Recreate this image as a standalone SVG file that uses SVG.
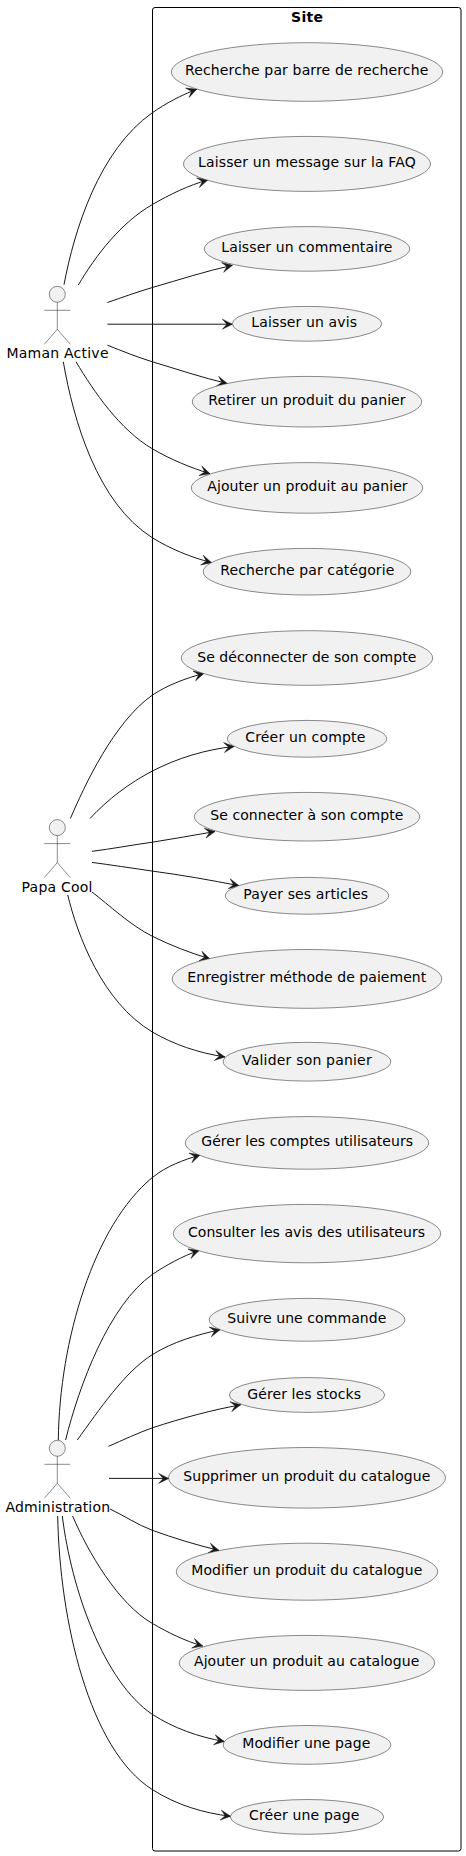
<svg xmlns="http://www.w3.org/2000/svg" width="466" height="1856" viewBox="0 0 466 1856">
<style>
text{font-family:"DejaVu Sans",sans-serif;font-size:14px;fill:#000}
.u{fill:#F1F1F1;stroke:#181818;stroke-width:.5}
.a{fill:none;stroke:#181818;stroke-width:.5}
.h{fill:#F1F1F1;stroke:#181818;stroke-width:.5}
.c path{fill:none;stroke:#181818;stroke-width:1;marker-end:url(#arr)}
</style>
<defs>
<marker id="arr" markerUnits="userSpaceOnUse" markerWidth="12" markerHeight="12" refX="10.5" refY="6" orient="auto" overflow="visible"><path d="M10.5,6 L0.5,1 L5,6 L0.5,11 Z" fill="#181818" stroke="#181818" stroke-width=".5"/></marker>
</defs>
<rect width="466" height="1856" fill="#fff"/>
<g id="Site"><rect x="152.5" y="7.5" width="308.5" height="1843.5" rx="2.5" fill="none" stroke="#000" stroke-width="1"/>
<text x="291" y="22" textLength="32" style="font-weight:700">Site</text></g>
<g id="actor-maman"><circle class="h" cx="57.3" cy="294.3" r="8"/><path class="a" d="M57.3,302.3V329.3M44.3,310.3H70.3M57.3,329.3L44.3,344.3M57.3,329.3L70.3,344.3"/><text x="6.5" y="358.3" textLength="102">Maman Active</text></g>
<g id="actor-papa"><circle class="h" cx="57.3" cy="827.6" r="8"/><path class="a" d="M57.3,835.6V862.6M44.3,843.6H70.3M57.3,862.6L44.3,877.6M57.3,862.6L70.3,877.6"/><text x="21.5" y="891.6" textLength="71">Papa Cool</text></g>
<g id="actor-admin"><circle class="h" cx="57.3" cy="1448.3" r="8"/><path class="a" d="M57.3,1456.3V1483.3M44.3,1464.3H70.3M57.3,1483.3L44.3,1498.3M57.3,1483.3L70.3,1498.3"/><text x="5.5" y="1512.3" textLength="104.5">Administration</text></g>
<g id="connectors" class="c">
<path d="M64,284.7C74.3,230 99.1,150 152.4,112.7C165.5,103.5 181.4,95 196.7,89.3"/>
<path d="M78.3,285C96,255 121.2,222.5 152.4,204.5C169.7,194.5 188.4,185.4 207.7,180"/>
<path d="M107.4,302.5C122,297.5 137,292 152.4,287.5C178.4,280 206.2,271 232.4,265.3"/>
<path d="M107.4,324.2H232.4"/>
<path d="M107.4,345.2C122,351 137,357 152.4,361.8C176.5,369 203.2,378 227.3,383.5"/>
<path d="M76,361.8C94.2,392 119.6,429.5 152.4,448.8C169.6,459 191.3,468 210,473.7"/>
<path d="M63.3,361.8C73.4,420 97.1,503 152.4,537.8C170.5,549 190.3,557 211.6,562.7"/>
<path d="M70.4,818.5C84.3,786 114,722 152.4,695.1C167.5,685 186.4,678 204,673.4"/>
<path d="M90,818.5C107.7,799.4 129.3,783 152.4,771C177.3,758.1 206.1,749.4 234,746.5"/>
<path d="M92,851.3C111,849 131.8,845 152.4,842.2C173.5,839 194.3,835 215,831.5"/>
<path d="M92,862.4C111,865 131.8,868 152.4,871.1C181.4,875 210.2,880 239,885.7"/>
<path d="M92,892C109,905 130,925.1 152.4,936.3C170.3,945.2 190.3,953 210,958.9"/>
<path d="M67.7,894.8C77.3,935 102.4,1002.5 152.4,1032C173.1,1044.2 198.3,1053 225,1056.9"/>
<path d="M58.3,1440C59.5,1340 94.2,1225 152.4,1177.5C166.5,1166 183.4,1160 200,1155"/>
<path d="M65.6,1440C79.3,1385 109,1305 152.4,1274.4C166.5,1265 182.4,1256 199,1250.6"/>
<path d="M77.3,1440C99.1,1410 124.4,1372.1 152.4,1354.6C172.8,1341.9 196.3,1335 220,1329.7"/>
<path d="M108.4,1446.4C123,1440 137.8,1433 152.4,1427.8C182.4,1418 212.1,1410 240.7,1404.8"/>
<path d="M109,1478.4H168.7"/>
<path d="M110,1509C123,1515 137.8,1525 152.4,1530.3C173.5,1538 196.3,1545 219,1550.4"/>
<path d="M72.6,1516C88,1552 117.8,1603.5 152.4,1623.5C168,1632.5 185,1641 202.7,1646"/>
<path d="M62.3,1516C71.4,1590 104.1,1682 152.4,1714.4C173.5,1728 198.3,1737 224.3,1741.5"/>
<path d="M57.7,1516C59.5,1620 89.2,1750 152.4,1789.6C176.5,1805 203.2,1813 230.7,1816.3"/>
</g>
<g id="uc1"><ellipse class="u" cx="307" cy="72" rx="135.7" ry="29.3"/><text x="185" y="75.4" textLength="243.3">Recherche par barre de recherche</text></g>
<g id="uc2"><ellipse class="u" cx="307" cy="163.9" rx="123.5" ry="27.5"/><text x="198" y="167.4" textLength="217.7">Laisser un message sur la FAQ</text></g>
<g id="uc3"><ellipse class="u" cx="307" cy="248.9" rx="102.7" ry="22.3"/><text x="221.3" y="252.4" textLength="171">Laisser un commentaire</text></g>
<g id="uc4"><ellipse class="u" cx="307" cy="323.8" rx="74.7" ry="17.4"/><text x="251.3" y="327.3" textLength="105.7">Laisser un avis</text></g>
<g id="uc5"><ellipse class="u" cx="307" cy="401.7" rx="114.7" ry="25.3"/><text x="208.3" y="405.2" textLength="197.3">Retirer un produit du panier</text></g>
<g id="uc6"><ellipse class="u" cx="307" cy="487.9" rx="115.7" ry="25.3"/><text x="207.3" y="491.4" textLength="200.3">Ajouter un produit au panier</text></g>
<g id="uc7"><ellipse class="u" cx="307" cy="571.7" rx="103.8" ry="23.3"/><text x="220.3" y="575.2" textLength="174">Recherche par catégorie</text></g>
<g id="uc8"><ellipse class="u" cx="307" cy="658" rx="125.7" ry="27.3"/><text x="197.3" y="661.5" textLength="219">Se déconnecter de son compte</text></g>
<g id="uc9"><ellipse class="u" cx="307" cy="738.8" rx="79.7" ry="18.4"/><text x="245.3" y="742.3" textLength="120">Créer un compte</text></g>
<g id="uc10"><ellipse class="u" cx="307" cy="816.7" rx="112.7" ry="24.3"/><text x="210.3" y="820.2" textLength="193">Se connecter à son compte</text></g>
<g id="uc11"><ellipse class="u" cx="307" cy="895.8" rx="81.7" ry="18.4"/><text x="243.3" y="899.3" textLength="124.7">Payer ses articles</text></g>
<g id="uc12"><ellipse class="u" cx="307" cy="978.9" rx="134.8" ry="29.4"/><text x="187.3" y="982.4" textLength="239">Enregistrer méthode de paiement</text></g>
<g id="uc13"><ellipse class="u" cx="307" cy="1061.7" rx="83.8" ry="19.4"/><text x="242" y="1065.2" textLength="129.7">Valider son panier</text></g>
<g id="uc14"><ellipse class="u" cx="307" cy="1142.9" rx="121.7" ry="26.3"/><text x="201.3" y="1146.4" textLength="211.7">Gérer les comptes utilisateurs</text></g>
<g id="uc15"><ellipse class="u" cx="307" cy="1233.6" rx="133.7" ry="29.2"/><text x="188" y="1237.1" textLength="237">Consulter les avis des utilisateurs</text></g>
<g id="uc16"><ellipse class="u" cx="307" cy="1319.8" rx="97.8" ry="21.4"/><text x="227.3" y="1323.3" textLength="159">Suivre une commande</text></g>
<g id="uc17"><ellipse class="u" cx="307" cy="1395" rx="77.7" ry="17.4"/><text x="247.3" y="1398.5" textLength="113.7">Gérer les stocks</text></g>
<g id="uc18"><ellipse class="u" cx="307" cy="1477.8" rx="138.5" ry="30.3"/><text x="183.3" y="1481.3" textLength="247">Supprimer un produit du catalogue</text></g>
<g id="uc19"><ellipse class="u" cx="307" cy="1571.7" rx="130.7" ry="28.5"/><text x="191.3" y="1575.2" textLength="231">Modifier un produit du catalogue</text></g>
<g id="uc20"><ellipse class="u" cx="307" cy="1662.9" rx="127.7" ry="27.5"/><text x="194" y="1666.4" textLength="225.3">Ajouter un produit au catalogue</text></g>
<g id="uc21"><ellipse class="u" cx="307" cy="1744.9" rx="83.8" ry="19.4"/><text x="242.3" y="1748.4" textLength="128">Modifier une page</text></g>
<g id="uc22"><ellipse class="u" cx="307" cy="1816.9" rx="76.7" ry="17.4"/><text x="249" y="1820.4" textLength="110.3">Créer une page</text></g>
</svg>
